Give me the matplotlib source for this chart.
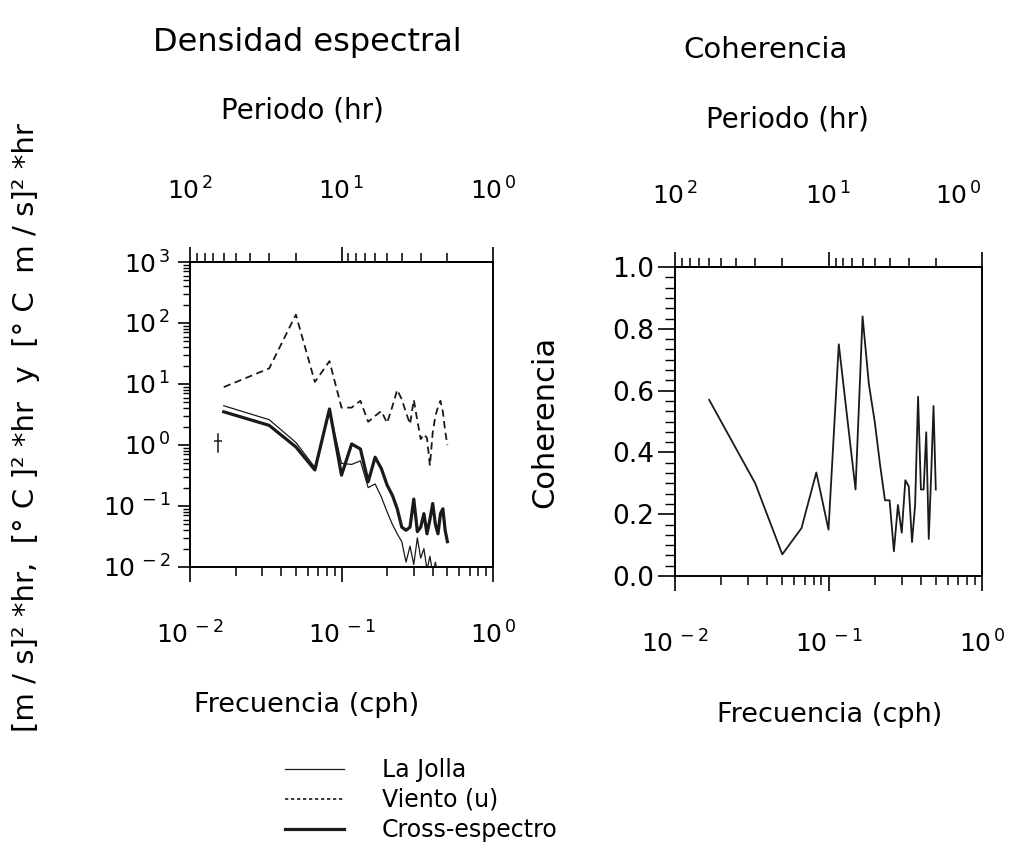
import numpy as np
import matplotlib
matplotlib.use("Agg")
import matplotlib.pyplot as plt
from matplotlib.ticker import FixedLocator, NullFormatter, FuncFormatter, MultipleLocator, AutoMinorLocator
from matplotlib.lines import Line2D

plt.rcParams['font.family'] = ['DejaVu Sans']
plt.rcParams['mathtext.default'] = 'regular'

# ---------------- data ----------------
freq = [0.0167, 0.0333, 0.0500, 0.0667, 0.0833, 0.1000, 0.1167, 0.1333, 0.1500, 0.1667,
        0.1833, 0.2000, 0.2167, 0.2333, 0.2500, 0.2667, 0.2833, 0.3000, 0.3167, 0.3333,
        0.3500, 0.3667, 0.3833, 0.4000, 0.4167, 0.4333, 0.4500, 0.4667, 0.4833, 0.5000]

la_jolla = [4.4, 2.6, 1.1, 0.43, 3.7, 0.5, 0.48, 0.55, 0.2, 0.23,
            0.14, 0.08, 0.05, 0.035, 0.026, 0.012, 0.022, 0.011, 0.03, 0.014,
            0.02, 0.009, 0.015, 0.008, 0.012, 0.007, 0.009, 0.006, 0.005, 0.005]

viento = [8.9, 18, 137, 10.8, 23.7, 4.1, 4.1, 5.3, 2.4, 3.0,
          3.6, 2.3, 4.3, 8.0, 5.6, 3.4, 2.2, 5.5, 2.5, 1.25,
          1.5, 1.3, 0.46, 1.6, 3.0, 4.2, 5.3, 3.5, 1.7, 1.0]

cross = [3.5, 2.1, 0.93, 0.39, 3.9, 0.32, 1.04, 0.86, 0.25, 0.63,
         0.41, 0.22, 0.15, 0.09, 0.045, 0.04, 0.045, 0.13, 0.038, 0.045,
         0.075, 0.035, 0.06, 0.11, 0.05, 0.035, 0.075, 0.09, 0.04, 0.026]

coherencia = [0.57, 0.30, 0.07, 0.155, 0.335, 0.15, 0.75, 0.50, 0.28, 0.84,
              0.62, 0.50, 0.36, 0.245, 0.245, 0.08, 0.23, 0.14, 0.31, 0.29,
              0.11, 0.23, 0.58, 0.28, 0.28, 0.465, 0.12, 0.33, 0.55, 0.28]

# confidence-interval marker
ci_freq = 0.0153
ci_low, ci_mid, ci_high = 0.76, 1.17, 1.5

freq_ticks = [0.01, 0.1, 1]
period_ticks = [100, 10, 1]
density_ticks = [0.01, 0.1, 1, 10, 100, 1000]

legend_labels = ["La Jolla", "Viento (u)", "Cross-espectro"]

# ---------------- figure ----------------
W, H = 1011, 865
fig = plt.figure(figsize=(W / 100, H / 100), dpi=100)


def fx(px):
    return px / W


def fy(py):
    return 1 - py / H


def inv(x):
    x = np.asarray(x, dtype=float)
    with np.errstate(divide='ignore', invalid='ignore'):
        return 1.0 / x


def pow_fmt(v, pos=None):
    if v <= 0:
        return ""
    e = int(round(np.log10(v)))
    return r"$10^{\,%d}$" % e


def minors(majors):
    lo, hi = min(majors), max(majors)
    out = []
    d = lo
    while d < hi * 0.999:
        out += [d * m for m in range(2, 10)]
        d *= 10
    return out


ax1 = fig.add_axes([fx(190), fy(567), fx(303), 305 / H])
ax2 = fig.add_axes([fx(675), fy(576), fx(307), 309 / H])

LW_SPINE = 1.4
TICK_FS = 18
secs = []
for ax in (ax1, ax2):
    for s in ax.spines.values():
        s.set_linewidth(LW_SPINE)
    ax.set_xscale('log')
    ax.set_xlim(0.01, 1)
    ax.xaxis.set_major_locator(FixedLocator(freq_ticks))
    ax.xaxis.set_minor_locator(FixedLocator(minors(freq_ticks)))
    ax.xaxis.set_major_formatter(FuncFormatter(pow_fmt))
    ax.xaxis.set_minor_formatter(NullFormatter())
    ax.tick_params(axis='x', which='major', direction='out', length=11, width=1.2,
                   labelsize=TICK_FS, pad=28, top=False)
    ax.tick_params(axis='x', which='minor', direction='out', length=6.5, width=1.1, top=False)
    ax.tick_params(axis='y', which='both', right=False)

    sec = ax.secondary_xaxis('top', functions=(inv, inv))
    sec.xaxis.set_major_locator(FixedLocator(period_ticks))
    sec.xaxis.set_minor_locator(FixedLocator(minors(period_ticks)))
    sec.xaxis.set_major_formatter(FuncFormatter(pow_fmt))
    sec.xaxis.set_minor_formatter(NullFormatter())
    sec.tick_params(axis='x', which='major', direction='out', length=11, width=1.2,
                    labelsize=TICK_FS, pad=30)
    sec.tick_params(axis='x', which='minor', direction='out', length=6.5, width=1.1)
    sec.spines['top'].set_linewidth(LW_SPINE)
    secs.append(sec)

# ---- left: spectral density ----
ax1.set_yscale('log')
ax1.set_ylim(0.01, 1000)
ax1.yaxis.set_major_locator(FixedLocator(density_ticks))
ax1.yaxis.set_minor_locator(FixedLocator(minors(density_ticks)))
ax1.yaxis.set_major_formatter(FuncFormatter(pow_fmt))
ax1.yaxis.set_minor_formatter(NullFormatter())
ax1.tick_params(axis='y', which='major', direction='out', length=9, width=1.2,
                labelsize=TICK_FS, pad=5)
ax1.tick_params(axis='y', which='minor', direction='out', length=5, width=1.0)

ax1.plot(freq, la_jolla, color='#1a1a1a', lw=0.9)
ax1.plot(freq, viento, color='#1a1a1a', lw=1.3, dashes=(4, 2.5))
ax1.plot(freq, cross, color='#1a1a1a', lw=2.3)
ax1.plot([ci_freq, ci_freq], [ci_low, ci_high], color='#1a1a1a', lw=1.1)
ax1.plot([ci_freq], [ci_mid], marker='_', ms=6, mew=1.1, color='#1a1a1a')

# ---- right: coherence ----
ax2.set_ylim(0, 1)
ax2.yaxis.set_major_locator(MultipleLocator(0.2))
ax2.yaxis.set_minor_locator(AutoMinorLocator(6))
ax2.yaxis.set_major_formatter(FuncFormatter(lambda v, p: "%.1f" % v))
ax2.tick_params(axis='y', which='major', direction='out', length=12, width=1.2,
                labelsize=TICK_FS + 1, pad=3)
ax2.tick_params(axis='y', which='minor', direction='out', length=7, width=1.0)
ax2.plot(freq, coherencia, color='#1a1a1a', lw=1.3)

# ---------------- texts ----------------
fig.text(fx(307), fy(42), "Densidad espectral", ha='center', va='center', fontsize=23)
fig.text(fx(766), fy(50), "Coherencia", ha='center', va='center', fontsize=21)
fig.text(fx(302), fy(110), "Periodo (hr)", ha='center', va='center', fontsize=20)
fig.text(fx(787), fy(120), "Periodo (hr)", ha='center', va='center', fontsize=20)
fig.text(fx(307), fy(705), "Frecuencia (cph)", ha='center', va='center', fontsize=19.5)
fig.text(fx(830), fy(715), "Frecuencia (cph)", ha='center', va='center', fontsize=19.5)
fig.text(fx(26), fy(428), "[m / s]² *hr,  [° C ]² *hr  y  [° C  m / s]² *hr",
         ha='center', va='center', rotation=90, fontsize=21)
fig.text(fx(545), fy(422), "Coherencia", ha='center', va='center', rotation=90, fontsize=22)

# ---------------- legend ----------------
handles = [Line2D([], [], color='#1a1a1a', lw=0.9),
           Line2D([], [], color='#1a1a1a', lw=1.2, dashes=(2, 1.6)),
           Line2D([], [], color='#1a1a1a', lw=2.3)]
fig.legend(handles, legend_labels, loc='upper left', bbox_to_anchor=(fx(285), fy(758)),
           frameon=False, fontsize=17, handlelength=2.5, handletextpad=1.6,
           labelspacing=0.25, borderpad=0, borderaxespad=0)

# keep the right-most top label (period 1 hr) inside the picture
fig.canvas.draw()
for lab in secs[1].xaxis.get_ticklabels():
    if lab.get_text() and abs(lab.get_position()[0] - 1.0) < 1e-6:
        lab.set_horizontalalignment('right')
        lab.set_x(1.0)

fig.savefig("out.png", dpi=100)
